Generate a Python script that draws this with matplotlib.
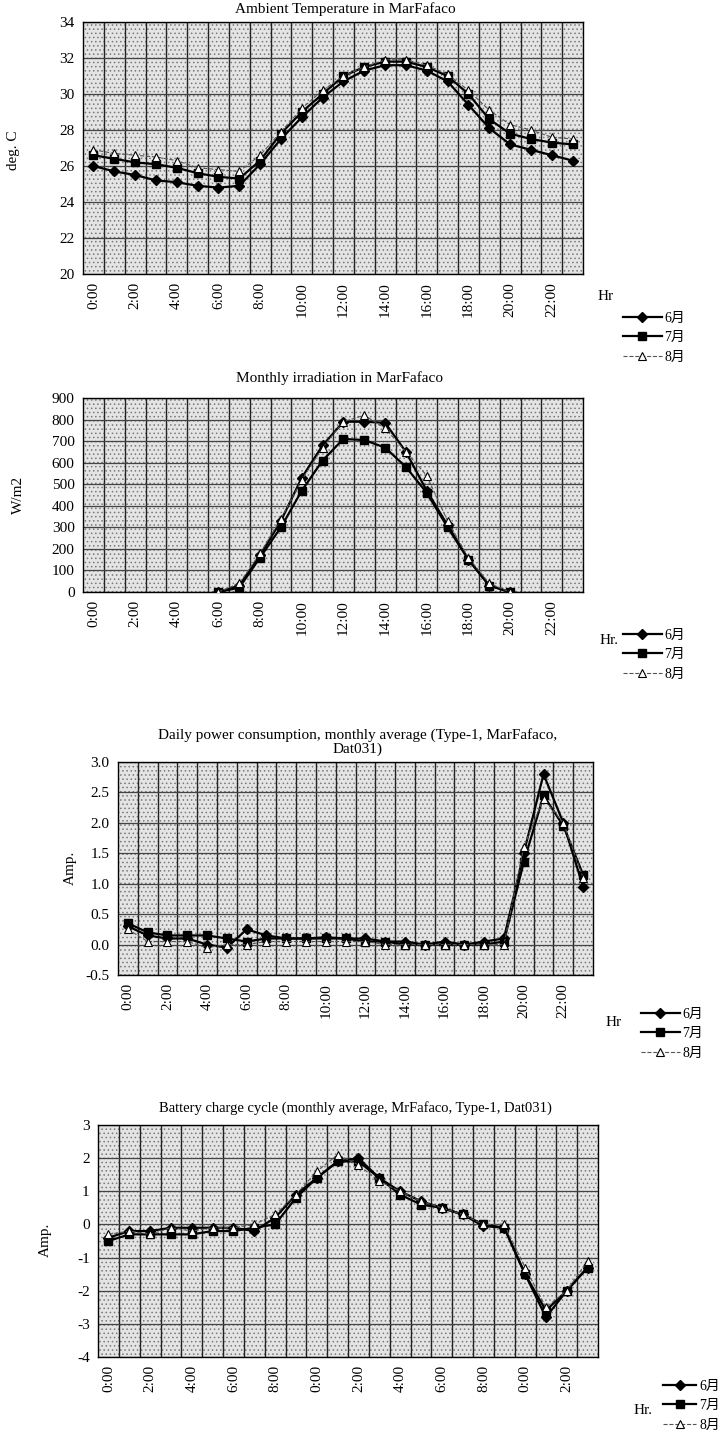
import matplotlib
matplotlib.use("Agg")
import matplotlib.pyplot as plt
import numpy as np

plt.rcParams['font.family'] = ['Liberation Serif', 'Noto Sans CJK JP']
plt.rcParams['hatch.color'] = '#7a7a7a'
plt.rcParams['hatch.linewidth'] = 0.6

hours = np.arange(24)
months = ['6月', '7月', '8月']
nan = np.nan

# Ambient temperature (deg. C)
temp_jun = [26.0, 25.7, 25.5, 25.2, 25.1, 24.9, 24.8, 24.9, 26.1, 27.5, 28.7, 29.8,
            30.7, 31.3, 31.6, 31.6, 31.3, 30.7, 29.4, 28.1, 27.2, 26.9, 26.6, 26.3]
temp_jul = [26.6, 26.4, 26.2, 26.1, 25.9, 25.6, 25.4, 25.3, 26.3, 27.8, 29.0, 30.0,
            31.0, 31.5, 31.8, 31.8, 31.5, 31.0, 30.0, 28.6, 27.8, 27.5, 27.3, 27.2]
temp_aug = [26.9, 26.7, 26.6, 26.5, 26.3, 25.9, 25.8, 25.7, 26.6, 27.9, 29.2, 30.2,
            31.0, 31.5, 31.9, 31.9, 31.6, 31.1, 30.2, 29.1, 28.3, 28.0, 27.6, 27.5]

# Monthly irradiation (W/m2)
irr_jun = [nan, nan, nan, nan, nan, nan, 0, 30, 170, 330, 530, 680,
           790, 790, 785, 650, 470, 310, 150, 30, 0, nan, nan, nan]
irr_jul = [nan, nan, nan, nan, nan, nan, 0, 20, 160, 300, 470, 610,
           710, 705, 670, 580, 460, 300, 150, 30, 0, nan, nan, nan]
irr_aug = [nan, nan, nan, nan, nan, nan, 0, 40, 180, 340, 520, 670,
           790, 820, 760, 650, 540, 330, 160, 40, 0, nan, nan, nan]

# Daily power consumption (Amp.)
pow_jun = [0.30, 0.15, 0.10, 0.10, 0.00, -0.05, 0.25, 0.15, 0.10, 0.10, 0.12, 0.10,
           0.10, 0.05, 0.05, 0.00, 0.05, 0.00, 0.05, 0.10, 1.50, 2.80, 2.00, 0.95]
pow_jul = [0.35, 0.20, 0.15, 0.15, 0.15, 0.10, 0.05, 0.10, 0.10, 0.10, 0.10, 0.10,
           0.05, 0.05, 0.00, 0.00, 0.00, 0.00, 0.00, 0.05, 1.35, 2.45, 1.95, 1.15]
pow_aug = [0.25, 0.05, 0.05, 0.05, -0.05, 0.00, 0.00, 0.05, 0.05, 0.05, 0.05, 0.05,
           0.05, 0.00, 0.00, 0.00, 0.00, 0.00, 0.00, 0.00, 1.60, 2.40, 2.00, 1.10]

# Battery charge cycle (Amp.)
bat_jun = [-0.4, -0.2, -0.2, -0.1, -0.1, -0.1, -0.1, -0.2, 0.2, 0.9, 1.4, 1.9,
           2.0, 1.4, 1.0, 0.7, 0.5, 0.3, -0.05, -0.1, -1.5, -2.8, -2.0, -1.3]
bat_jul = [-0.5, -0.3, -0.3, -0.3, -0.3, -0.2, -0.2, -0.1, 0.0, 0.8, 1.4, 1.9,
           1.9, 1.4, 0.9, 0.6, 0.5, 0.3, 0.0, -0.1, -1.5, -2.6, -2.0, -1.3]
bat_aug = [-0.3, -0.2, -0.3, -0.1, -0.2, -0.1, -0.1, 0.0, 0.3, 0.9, 1.6, 2.1,
           1.8, 1.3, 1.0, 0.7, 0.5, 0.3, 0.0, 0.0, -1.3, -2.5, -2.0, -1.1]

tick_labels = ['0:00', '2:00', '4:00', '6:00', '8:00', '10:00',
               '12:00', '14:00', '16:00', '18:00', '20:00', '22:00']
# the scan cuts the leading "1" off the battery chart's labels
tick_labels_cut = ['0:00', '2:00', '4:00', '6:00', '8:00', '0:00',
                   '2:00', '4:00', '6:00', '8:00', '0:00', '2:00']

W, H = 721, 1434
fig = plt.figure(figsize=(W / 100, H / 100), dpi=100)
fig.patch.set_facecolor('white')


def px_axes(l, r, t, b):
    return fig.add_axes([l / W, 1 - b / H, (r - l) / W, (b - t) / H])


def ftext(x, y, s, **kw):
    fig.text(x / W, 1 - y / H, s, **kw)


def draw(ax, series, ylim, yticks, yfmt, xlabels, legend_xy, hr_xy, hr_text, hl=2.8):
    ax.set_facecolor('#e4e4e4')
    ax.patch.set_hatch('....')
    ax.patch.set_edgecolor('#7a7a7a')
    styles = [dict(color='black', lw=1.6, marker='D', ms=5.5, mfc='black'),
              dict(color='black', lw=1.6, marker='s', ms=6, mfc='black'),
              dict(color='#555555', lw=0.8, ls='--', marker='^', ms=6,
                   mfc='white', mec='black', mew=0.8)]
    for vals, lab, st in zip(series, months, styles):
        ax.plot(hours, vals, label=lab, zorder=3, **st)
    ax.set_xlim(-0.5, 23.5)
    ax.set_ylim(*ylim)
    ax.set_yticks(yticks)
    ax.set_yticklabels([yfmt.format(v) for v in yticks])
    ax.set_xticks(np.arange(0, 24, 2))
    ax.set_xticklabels(xlabels, rotation=90)
    ax.set_xticks(np.arange(0.5, 23, 1), minor=True)
    ax.grid(True, which='minor', axis='x', color='#222222', lw=1.0)
    ax.grid(True, which='major', axis='y', color='#444444', lw=0.9)
    ax.set_axisbelow(True)
    ax.tick_params(which='both', length=0, labelsize=11, pad=6)
    for s in ax.spines.values():
        s.set_color('black')
        s.set_linewidth(1.0)
    ax.legend(loc='upper left', bbox_to_anchor=(legend_xy[0] / W, 1 - legend_xy[1] / H),
              bbox_transform=fig.transFigure, frameon=False, fontsize=10,
              handlelength=hl, handletextpad=0.2, labelspacing=0.45, borderpad=0)
    ftext(hr_xy[0], hr_xy[1], hr_text, fontsize=11, va='center')


ax1 = px_axes(83, 583, 22, 274)
draw(ax1, [temp_jun, temp_jul, temp_aug], (20, 34), np.arange(20, 35, 2), '{:.0f}',
     tick_labels, (616, 305), (598, 297), 'Hr')
ftext(14, 150, 'deg. C', rotation=90, ha='center', va='center', fontsize=11)
ftext(345, 9, 'Ambient Temperature in MarFafaco', ha='center', va='center', fontsize=11)

ax2 = px_axes(83, 583, 398, 592)
draw(ax2, [irr_jun, irr_jul, irr_aug], (0, 900), np.arange(0, 901, 100), '{:.0f}',
     tick_labels, (616, 622), (600, 641), 'Hr.')
ftext(18, 495, 'W/m2', rotation=90, ha='center', va='center', fontsize=11)
ftext(340, 378, 'Monthly irradiation in MarFafaco', ha='center', va='center', fontsize=11)

ax3 = px_axes(118, 593, 762, 975)
draw(ax3, [pow_jun, pow_jul, pow_aug], (-0.5, 3.0), np.arange(-0.5, 3.01, 0.5), '{:.1f}',
     tick_labels, (634, 1001), (606, 1022), 'Hr')
ftext(70, 868, 'Amp.', rotation=90, ha='center', va='center', fontsize=11)
ftext(358, 742, 'Daily power consumption, monthly average (Type-1, MarFafaco,\nDat031)',
      ha='center', va='center', fontsize=11, linespacing=1.1)

ax4 = px_axes(98, 598, 1125, 1357)
draw(ax4, [bat_jun, bat_jul, bat_aug], (-4, 3), np.arange(-4, 4, 1), '{:.0f}',
     tick_labels_cut, (656, 1373), (634, 1410), 'Hr.', hl=2.4)
ftext(45, 1240, 'Amp.', rotation=90, ha='center', va='center', fontsize=11)
ftext(355, 1108, 'Battery charge cycle (monthly average, MrFafaco, Type-1, Dat031)',
      ha='center', va='center', fontsize=10.5)

fig.savefig('out.png', dpi=100)
